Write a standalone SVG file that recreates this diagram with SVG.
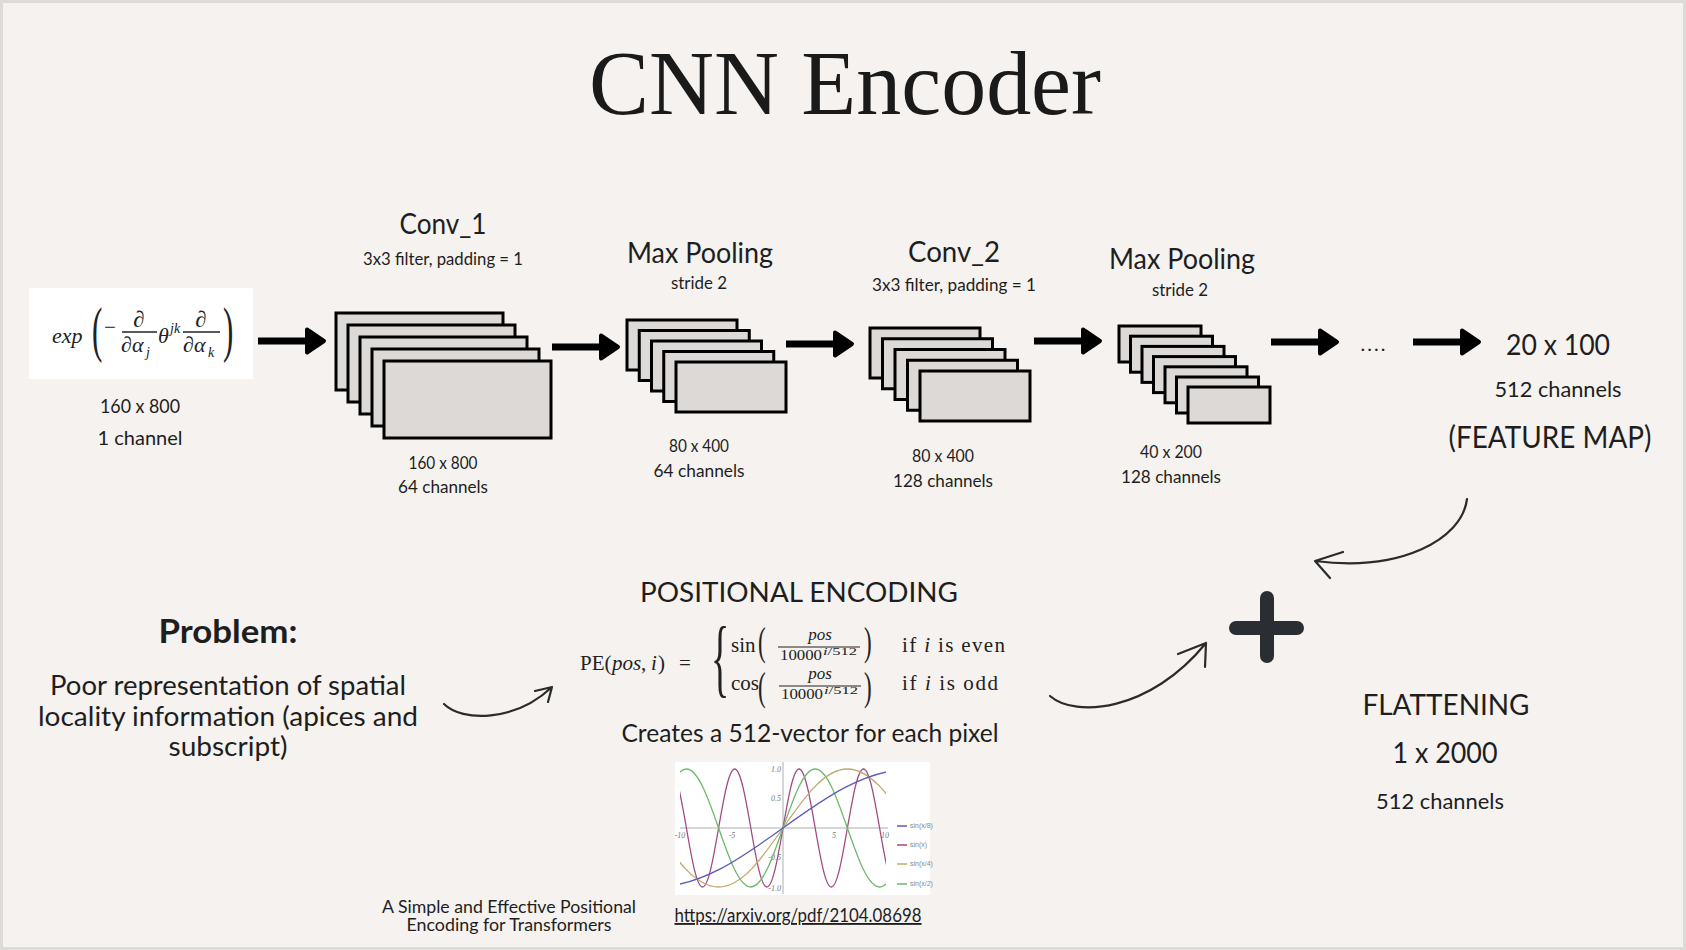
<svg xmlns="http://www.w3.org/2000/svg" xmlns:xlink="http://www.w3.org/1999/xlink" width="1686" height="950" viewBox="0 0 1686 950">
<style>
.t{font-family:Lato,"Noto Sans","Liberation Sans",sans-serif;fill:#1e1e1e;text-anchor:middle}
.m{font-family:"Liberation Serif",serif;fill:#222}
.i{font-style:italic}
.box{fill:#dcd9d6;stroke:#000;stroke-width:3}
.hand{fill:none;stroke:#2b2b2b;stroke-width:2.2;stroke-linecap:round;stroke-linejoin:round}
.ax{stroke:#9a9a9a;stroke-width:0.8}
.tk{font-family:"Liberation Serif",serif;font-style:italic;font-size:8px;fill:#777}
.lg{font-family:"Liberation Sans",sans-serif;font-size:7px;fill:#888}
</style>
<defs>
<g id="ta"><path d="M0 0H50" stroke="#000" stroke-width="7"/><path d="M49 -11.5L66 0L49 11.5Z" fill="#000" stroke="#000" stroke-width="4" stroke-linejoin="round"/></g>
<path id="sw" fill="none" vector-effect="non-scaling-stroke" d="M-12.5664 0c0.5123 0.5123 1.0023 1 1.5708 1c0.5685 0 1.0585-0.4877 1.5708-1c0.5123-0.5123 1.0023-1 1.5708-1c0.5685 0 1.0585 0.4877 1.5708 1c0.5123 0.5123 1.0023 1 1.5708 1c0.5685 0 1.0585-0.4877 1.5708-1c0.5123-0.5123 1.0023-1 1.5708-1c0.5685 0 1.0585 0.4877 1.5708 1c0.5123 0.5123 1.0023 1 1.5708 1c0.5685 0 1.0585-0.4877 1.5708-1c0.5123-0.5123 1.0023-1 1.5708-1c0.5685 0 1.0585 0.4877 1.5708 1c0.5123 0.5123 1.0023 1 1.5708 1c0.5685 0 1.0585-0.4877 1.5708-1c0.5123-0.5123 1.0023-1 1.5708-1c0.5685 0 1.0585 0.4877 1.5708 1"/>
<clipPath id="cc"><rect x="680" y="760" width="206" height="136"/></clipPath>
</defs>
<rect width="1686" height="950" fill="#f5f2ef"/>
<rect x="1.5" y="1.5" width="1683" height="947" fill="none" stroke="#dddbd8" stroke-width="3"/>

<text id="title" x="845" y="114" font-family="'Liberation Serif',serif" font-size="91" fill="#1a1a1a" text-anchor="middle" textLength="512" lengthAdjust="spacingAndGlyphs">CNN Encoder</text>

<g id="input">
<rect x="29" y="288" width="224" height="91" fill="#fff"/>
<text class="m i" x="52" y="343" font-size="22">exp</text>
<text class="m" font-size="31" transform="translate(92 350) scale(1 1.95)">(</text>
<text class="m" x="104" y="334" font-size="21">−</text>
<text class="m" x="139" y="327" font-size="23" text-anchor="middle">∂</text>
<line x1="122" y1="332" x2="157" y2="332" stroke="#222" stroke-width="1.3"/>
<text class="m" x="121" y="352" font-size="22">∂<tspan class="i">α</tspan></text>
<text class="m i" x="146" y="357" font-size="14">j</text>
<text class="m i" x="158" y="343" font-size="22">θ</text>
<text class="m i" x="170" y="333" font-size="14">jk</text>
<text class="m" x="201" y="327" font-size="23" text-anchor="middle">∂</text>
<line x1="183" y1="332" x2="220" y2="332" stroke="#222" stroke-width="1.3"/>
<text class="m" x="183" y="352" font-size="22">∂<tspan class="i">α</tspan></text>
<text class="m i" x="208" y="357" font-size="14">k</text>
<text class="m" font-size="31" transform="translate(223 350) scale(1 1.95)">)</text>
<text class="t" x="140" y="413" font-size="20" textLength="80" lengthAdjust="spacingAndGlyphs">160 x 800</text>
<text class="t" x="140" y="445" font-size="20" textLength="85" lengthAdjust="spacingAndGlyphs">1 channel</text>
</g>

<g id="conv1">
<text class="t" x="443" y="234" font-size="29" textLength="87" lengthAdjust="spacingAndGlyphs">Conv_1</text>
<text class="t" x="443" y="265" font-size="17" textLength="160" lengthAdjust="spacingAndGlyphs">3x3 filter, padding = 1</text>
<rect class="box" x="336" y="313" width="167" height="77"/>
<rect class="box" x="348" y="325" width="167" height="77"/>
<rect class="box" x="360" y="337" width="167" height="77"/>
<rect class="box" x="372" y="349" width="167" height="77"/>
<rect class="box" x="384" y="361" width="167" height="77"/>
<text class="t" x="443" y="469" font-size="17" textLength="69" lengthAdjust="spacingAndGlyphs">160 x 800</text>
<text class="t" x="443" y="493" font-size="17" textLength="90" lengthAdjust="spacingAndGlyphs">64 channels</text>
</g>

<g id="pool1">
<text class="t" x="700" y="263" font-size="28" textLength="146" lengthAdjust="spacingAndGlyphs">Max Pooling</text>
<text class="t" x="699" y="289" font-size="17" textLength="56" lengthAdjust="spacingAndGlyphs">stride 2</text>
<rect class="box" x="627" y="320" width="110" height="50"/>
<rect class="box" x="639.25" y="330.5" width="110" height="50"/>
<rect class="box" x="651.5" y="341" width="110" height="50"/>
<rect class="box" x="663.75" y="351.5" width="110" height="50"/>
<rect class="box" x="676" y="362" width="110" height="50"/>
<text class="t" x="699" y="452" font-size="17" textLength="60" lengthAdjust="spacingAndGlyphs">80 x 400</text>
<text class="t" x="699" y="477" font-size="17" textLength="91" lengthAdjust="spacingAndGlyphs">64 channels</text>
</g>

<g id="conv2">
<text class="t" x="954" y="262" font-size="29" textLength="92" lengthAdjust="spacingAndGlyphs">Conv_2</text>
<text class="t" x="954" y="291" font-size="17" textLength="164" lengthAdjust="spacingAndGlyphs">3x3 filter, padding = 1</text>
<rect class="box" x="870" y="328" width="110" height="50"/>
<rect class="box" x="882.5" y="338.75" width="110" height="50"/>
<rect class="box" x="895" y="349.5" width="110" height="50"/>
<rect class="box" x="907.5" y="360.25" width="110" height="50"/>
<rect class="box" x="920" y="371" width="110" height="50"/>
<text class="t" x="943" y="462" font-size="17" textLength="62" lengthAdjust="spacingAndGlyphs">80 x 400</text>
<text class="t" x="943" y="487" font-size="17" textLength="100" lengthAdjust="spacingAndGlyphs">128 channels</text>
</g>

<g id="pool2">
<text class="t" x="1182" y="269" font-size="28" textLength="146" lengthAdjust="spacingAndGlyphs">Max Pooling</text>
<text class="t" x="1180" y="296" font-size="17" textLength="56" lengthAdjust="spacingAndGlyphs">stride 2</text>
<rect class="box" x="1119" y="326" width="82" height="36"/>
<rect class="box" x="1130.5" y="336.2" width="82" height="36"/>
<rect class="box" x="1142" y="346.4" width="82" height="36"/>
<rect class="box" x="1153.5" y="356.6" width="82" height="36"/>
<rect class="box" x="1165" y="366.8" width="82" height="36"/>
<rect class="box" x="1176.5" y="377" width="82" height="36"/>
<rect class="box" x="1188" y="387" width="82" height="36"/>
<text class="t" x="1171" y="458" font-size="17" textLength="62" lengthAdjust="spacingAndGlyphs">40 x 200</text>
<text class="t" x="1171" y="483" font-size="17" textLength="100" lengthAdjust="spacingAndGlyphs">128 channels</text>
</g>

<g id="dots"><text class="t" x="1373" y="351" font-size="20" textLength="25" lengthAdjust="spacing">....</text></g>

<g id="featuremap">
<text class="t" x="1558" y="355" font-size="28" textLength="104" lengthAdjust="spacingAndGlyphs">20 x 100</text>
<text class="t" x="1558" y="397" font-size="22" textLength="127" lengthAdjust="spacingAndGlyphs">512 channels</text>
<text class="t" x="1550" y="448" font-size="30" textLength="203" lengthAdjust="spacingAndGlyphs">(FEATURE MAP)</text>
</g>

<g id="problem">
<text class="t" x="228" y="643" font-size="33" font-weight="bold" textLength="139" lengthAdjust="spacingAndGlyphs">Problem:</text>
<text class="t" x="228" y="695" font-size="27" textLength="356" lengthAdjust="spacingAndGlyphs">Poor representation of spatial</text>
<text class="t" x="228" y="726" font-size="27" textLength="380" lengthAdjust="spacingAndGlyphs">locality information (apices and</text>
<text class="t" x="228" y="756" font-size="27" textLength="119" lengthAdjust="spacingAndGlyphs">subscript)</text>
</g>

<g id="posenc">
<text class="t" x="799" y="602" font-size="26" textLength="318" lengthAdjust="spacingAndGlyphs">POSITIONAL ENCODING</text>
<text class="m" y="670" font-size="21"><tspan x="580">PE(</tspan><tspan class="i" x="612">pos</tspan><tspan x="641">,</tspan><tspan class="i" x="651">i</tspan><tspan x="658">)</tspan><tspan x="679">=</tspan></text>
<text class="m" font-size="38" transform="translate(711 686) scale(1 2.3)">{</text>
<text class="m" x="731" y="652" font-size="21">sin</text>
<text class="m" font-size="23" transform="translate(758 655) scale(1 1.75)">(</text>
<text class="m i" x="820" y="640" font-size="17" text-anchor="middle">pos</text>
<line x1="778" y1="647" x2="860" y2="647" stroke="#222" stroke-width="1"/>
<text class="m" x="780" y="660" font-size="15" textLength="42" lengthAdjust="spacingAndGlyphs">10000</text>
<text class="m" x="823" y="655" font-size="11" textLength="34" lengthAdjust="spacingAndGlyphs"><tspan class="i">i</tspan>/512</text>
<text class="m" font-size="23" transform="translate(864 655) scale(1 1.75)">)</text>
<text class="m" x="902" y="652" font-size="21" textLength="103" lengthAdjust="spacing">if <tspan class="i">i</tspan> is even</text>
<text class="m" x="731" y="690" font-size="21">cos</text>
<text class="m" font-size="23" transform="translate(758 700) scale(1 1.75)">(</text>
<text class="m i" x="820" y="679" font-size="17" text-anchor="middle">pos</text>
<line x1="779" y1="686" x2="861" y2="686" stroke="#222" stroke-width="1"/>
<text class="m" x="781" y="699" font-size="15" textLength="42" lengthAdjust="spacingAndGlyphs">10000</text>
<text class="m" x="824" y="694" font-size="11" textLength="34" lengthAdjust="spacingAndGlyphs"><tspan class="i">i</tspan>/512</text>
<text class="m" font-size="23" transform="translate(864 700) scale(1 1.75)">)</text>
<text class="m" x="902" y="690" font-size="21" textLength="96" lengthAdjust="spacing">if <tspan class="i">i</tspan> is odd</text>
<text class="t" x="810" y="742" font-size="25" textLength="377" lengthAdjust="spacingAndGlyphs">Creates a 512-vector for each pixel</text>
</g>

<g id="chart">
<rect x="675" y="762" width="255" height="133" fill="#fff"/>
<line class="ax" x1="680" y1="828" x2="888" y2="828"/>
<line class="ax" x1="783" y1="762" x2="783" y2="894"/>
<text class="tk" x="781" y="772" text-anchor="end">1.0</text>
<text class="tk" x="781" y="801" text-anchor="end">0.5</text>
<text class="tk" x="781" y="860" text-anchor="end">-0.5</text>
<text class="tk" x="781" y="891" text-anchor="end">-1.0</text>
<text class="tk" x="680" y="838" text-anchor="middle">-10</text>
<text class="tk" x="732" y="838" text-anchor="middle">-5</text>
<text class="tk" x="834" y="838" text-anchor="middle">5</text>
<text class="tk" x="885" y="838" text-anchor="middle">10</text>
<g clip-path="url(#cc)" stroke-width="1.3">
<use xlink:href="#sw" href="#sw" stroke="#a14a84" transform="translate(783 828) scale(10.25 -59)"/>
<use xlink:href="#sw" href="#sw" stroke="#6cba6c" transform="translate(783 828) scale(20.5 -59)"/>
<use xlink:href="#sw" href="#sw" stroke="#c0aa6c" transform="translate(783 828) scale(41 -59)"/>
<use xlink:href="#sw" href="#sw" stroke="#5a5abd" transform="translate(783 828) scale(82 -59)"/>
</g>
<line x1="897" y1="826" x2="907" y2="826" stroke="#5a5abd" stroke-width="1.5"/>
<line x1="897" y1="845" x2="907" y2="845" stroke="#a14a84" stroke-width="1.5"/>
<line x1="897" y1="864" x2="907" y2="864" stroke="#c0aa6c" stroke-width="1.5"/>
<line x1="897" y1="884" x2="907" y2="884" stroke="#6cba6c" stroke-width="1.5"/>
<text class="lg" x="910" y="828">sin(x/8)</text>
<text class="lg" x="910" y="847">sin(x)</text>
<text class="lg" x="910" y="866">sin(x/4)</text>
<text class="lg" x="910" y="886">sin(x/2)</text>
</g>

<g id="reference">
<text class="t" x="509" y="913" font-size="17.5" textLength="254" lengthAdjust="spacingAndGlyphs">A Simple and Effective Positional</text>
<text class="t" x="509" y="931" font-size="17.5" textLength="205" lengthAdjust="spacingAndGlyphs">Encoding for Transformers</text>
<text class="t" x="798" y="922" font-size="18.5" text-decoration="underline" textLength="247" lengthAdjust="spacingAndGlyphs">https://arxiv.org/pdf/2104.08698</text>
</g>

<g id="plus">
<path d="M1267 598V656M1236 628H1297" stroke="#2a2e33" stroke-width="14" stroke-linecap="round"/>
</g>

<g id="flatten">
<text class="t" x="1446" y="715" font-size="29" textLength="167" lengthAdjust="spacingAndGlyphs">FLATTENING</text>
<text class="t" x="1445" y="763" font-size="29" textLength="105" lengthAdjust="spacingAndGlyphs">1 x 2000</text>
<text class="t" x="1440" y="809" font-size="22" textLength="128" lengthAdjust="spacingAndGlyphs">512 channels</text>
</g>

<g id="connectors">
<use xlink:href="#ta" href="#ta" transform="translate(258 341)"/>
<use xlink:href="#ta" href="#ta" transform="translate(552 347)"/>
<use xlink:href="#ta" href="#ta" transform="translate(786 344)"/>
<use xlink:href="#ta" href="#ta" transform="translate(1034 341)"/>
<use xlink:href="#ta" href="#ta" transform="translate(1271 342)"/>
<use xlink:href="#ta" href="#ta" transform="translate(1413 342)"/>
<path class="hand" d="M444 704C462 722 515 722 552 687M535 691L552 687L548 702"/>
<path class="hand" d="M1050 696C1075 718 1150 712 1206 643M1178 654L1206 643L1205 667"/>
<path class="hand" d="M1467 499C1462 540 1400 572 1315 561M1343 552L1315 561L1330 578"/>
</g>
</svg>
